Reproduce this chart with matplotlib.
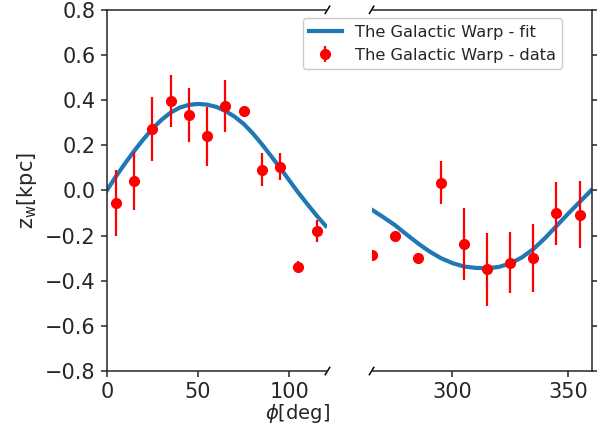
import numpy as np
import matplotlib
matplotlib.use("Agg")
import matplotlib.pyplot as plt

# measured points (phi in deg, z_w in kpc)
phi_data = [5, 15, 25, 35, 45, 55, 65, 75, 85, 95, 105, 115,
            265, 275, 285, 295, 305, 315, 325, 335, 345, 355]
z_data = [-0.055, 0.042, 0.272, 0.395, 0.335, 0.239, 0.373, 0.351, 0.091, 0.104, -0.339, -0.18,
          -0.287, -0.200, -0.298, 0.035, -0.236, -0.350, -0.321, -0.298, -0.101, -0.107]
z_err = [0.145, 0.13, 0.14, 0.115, 0.12, 0.13, 0.115, 0.02, 0.073, 0.06, 0.025, 0.05,
         0.01, 0.01, 0.01, 0.096, 0.16, 0.16, 0.135, 0.15, 0.14, 0.147]

# fitted curve
phi_fit_left = [0, 5, 10, 15, 20, 25, 30, 35, 40, 45, 50, 55, 60,
                65, 70, 75, 80, 85, 90, 95, 100, 105, 110, 115, 120]
z_fit_left = [0.0, 0.062, 0.12, 0.175, 0.226, 0.273, 0.313, 0.345, 0.367, 0.379, 0.383, 0.38, 0.37,
              0.352, 0.327, 0.295, 0.253, 0.205, 0.153, 0.1, 0.045, -0.01, -0.061, -0.111, -0.157]
phi_fit_right = [265, 270, 275, 280, 285, 290, 295, 300, 305, 310,
                 315, 320, 325, 330, 335, 340, 345, 350, 355, 360]
z_fit_right = [-0.085, -0.118, -0.153, -0.194, -0.234, -0.27, -0.30, -0.322, -0.337, -0.343,
               -0.345, -0.339, -0.324, -0.297, -0.26, -0.212, -0.158, -0.104, -0.052, 0.0]

yticks = [-0.8, -0.6, -0.4, -0.2, 0.0, 0.2, 0.4, 0.6, 0.8]

dark = "#262626"
plt.rcParams.update({
    "text.color": dark, "axes.labelcolor": dark,
    "xtick.color": dark, "ytick.color": dark,
    "axes.edgecolor": dark, "axes.linewidth": 1.1,
    "xtick.major.size": 4.5, "ytick.major.size": 4.5,
    "xtick.major.width": 1.1, "ytick.major.width": 1.1,
    "xtick.labelsize": 15, "ytick.labelsize": 15,
})

fig, (ax1, ax2) = plt.subplots(1, 2, figsize=(5.97, 4.26), dpi=100, sharey=True)
fig.subplots_adjust(left=0.179, right=0.992, bottom=0.129, top=0.977, wspace=0.2)

for ax in (ax1, ax2):
    ax.plot(phi_fit_left, z_fit_left, color="#1f77b4", lw=3, zorder=2)
    ax.plot(phi_fit_right, z_fit_right, color="#1f77b4", lw=3, zorder=2)
    ax.errorbar(phi_data, z_data, yerr=z_err, fmt="o", color="red", ms=7,
                elinewidth=1.6, capsize=0, zorder=3)

ax1.set_xlim(0, 121)
ax2.set_xlim(265, 360.5)
ax1.set_ylim(-0.8, 0.8)
ax1.set_yticks(yticks)
ax1.set_xticks([0, 50, 100])
ax2.set_xticks([300, 350])

ax1.spines["right"].set_visible(False)
ax2.spines["left"].set_visible(False)
ax2.yaxis.tick_right()
ax2.tick_params(labelright=False)

# break marks
d = 0.01
kw = dict(transform=ax1.transAxes, color="k", clip_on=False, lw=1.1)
ax1.plot((1 - d, 1 + d), (-d, d), **kw)
ax1.plot((1 - d, 1 + d), (1 - d, 1 + d), **kw)
kw.update(transform=ax2.transAxes)
ax2.plot((-d, d), (-d, d), **kw)
ax2.plot((-d, d), (1 - d, 1 + d), **kw)

ax1.set_ylabel(r"z$_{\rm w}$[kpc]", fontsize=15)
fig.text(0.498, 0.03, r"$\phi$[deg]", fontsize=14, ha="center", va="center")

h1, = ax1.plot([], [], color="#1f77b4", lw=3)
h2 = ax1.errorbar([], [], yerr=[], fmt="o", color="red", ms=7, elinewidth=1.6)
fig.legend([h1, h2], ["The Galactic Warp - fit", "The Galactic Warp - data"],
           loc="upper right", bbox_to_anchor=(0.9414, 0.9577), borderaxespad=0,
           fontsize=11.7, framealpha=1)

fig.savefig("out.png", dpi=100)
